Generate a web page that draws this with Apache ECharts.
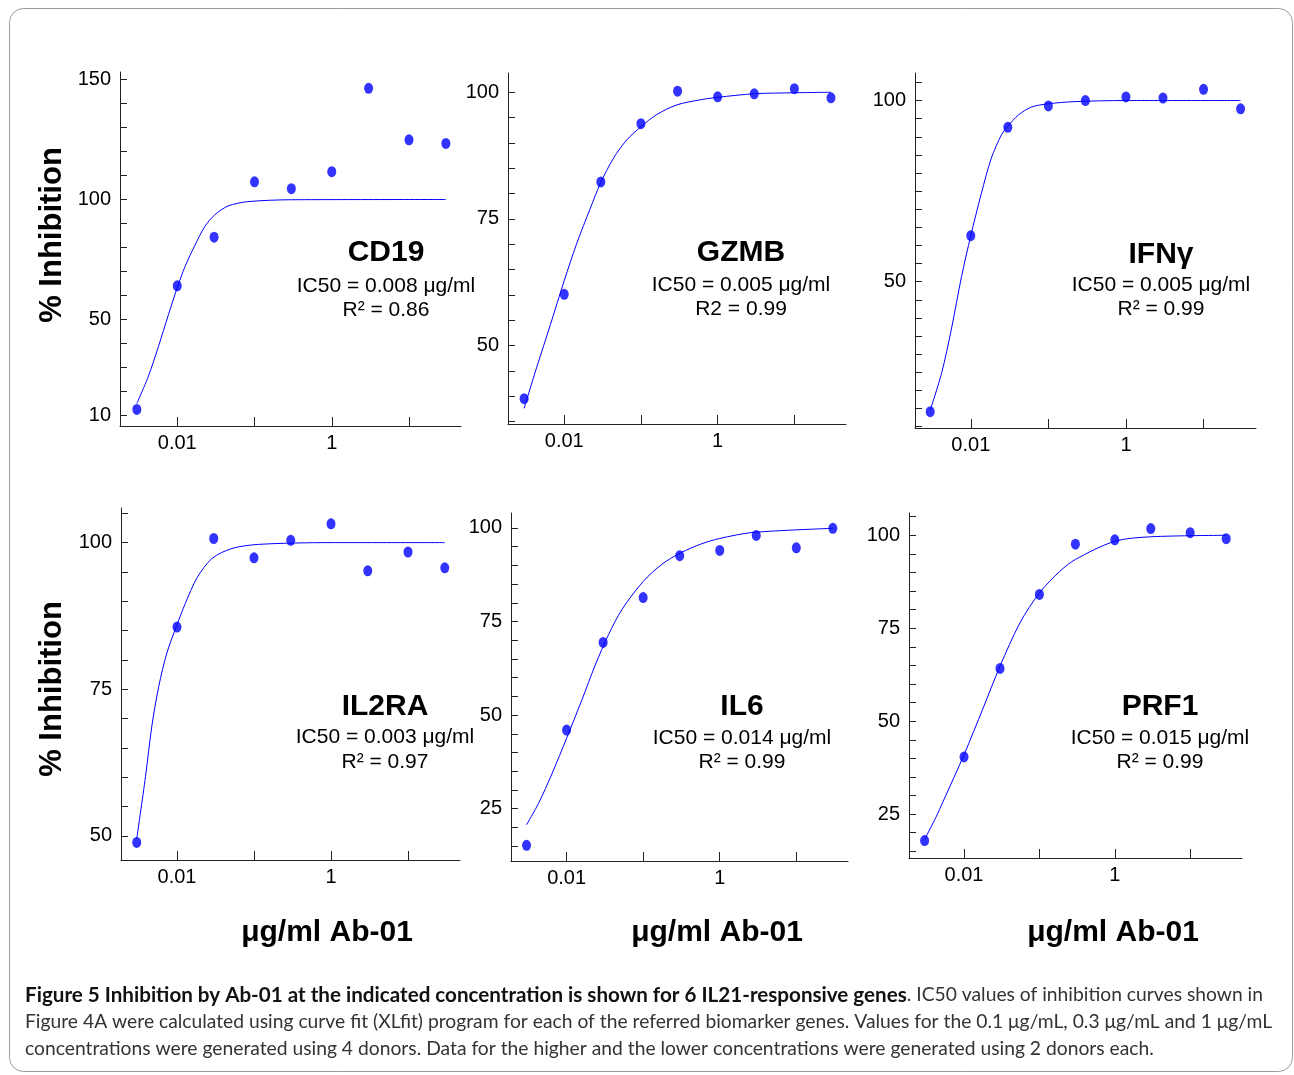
<!DOCTYPE html>
<html>
<head>
<meta charset="utf-8">
<script src="https://cdn.jsdelivr.net/npm/echarts/dist/echarts.min.js"></script>
<style>
html,body{margin:0;padding:0;background:#fff;}
#chart{width:1294px;height:1075px;}
</style>
</head>
<body>
<div id="chart"></div>
<script>
// ---------- data ----------
const concentrations = [0.003, 0.01, 0.03, 0.1, 0.3, 1, 3, 10, 30];

const cd19Values  = [12.4, 64.0, 84.3, 107.4, 104.5, 111.6, 146.4, 124.9, 123.4];
const gzmbValues  = [39.5, 60.1, 82.3, 93.8, 100.2, 99.1, 99.7, 100.7, 98.9];
const ifngValues  = [14.1, 62.7, 92.6, 98.5, 100.0, 101.0, 100.7, 103.1, 97.7];
const il2raValues = [48.9, 85.6, 100.7, 97.4, 100.4, 103.2, 95.2, 98.4, 95.7];
const il6Values   = [15.2, 46.0, 69.4, 81.4, 92.6, 94.0, 98.0, 94.7, 99.9];
const prf1Values  = [17.9, 40.4, 64.2, 84.1, 97.6, 98.8, 101.8, 100.7, 99.1];

// fitted curves, points
const cd19FitConc   = [0.003, 0.0042, 0.0057, 0.0077, 0.01, 0.0126, 0.017, 0.0227, 0.0306, 0.0455, 0.082, 0.3, 30];
const cd19FitValues = [14.9, 26.0, 38.6, 52.0, 63.2, 72.0, 81.0, 88.7, 93.6, 97.3, 99.1, 99.9, 100];
const gzmbFitConc   = [0.003, 0.0044, 0.0066, 0.01, 0.0146, 0.0219, 0.0296, 0.0439, 0.0655, 0.1, 0.161, 0.293, 0.59, 1, 3, 10, 30];
const gzmbFitValues = [37.6, 45.8, 54.1, 62.8, 70.2, 77.1, 82.0, 87.0, 90.6, 93.2, 95.6, 97.5, 98.5, 99.0, 99.7, 99.9, 100];
const ifngFitConc   = [0.003, 0.0042, 0.0056, 0.0076, 0.01, 0.0137, 0.0184, 0.0248, 0.0297, 0.041, 0.0605, 0.1, 0.22, 1, 30];
const ifngFitValues = [14.5, 24.7, 36.7, 51.4, 62.7, 74.4, 84.1, 90.5, 92.8, 96.0, 98.2, 99.1, 99.7, 100, 100];
const il2raFitConc   = [0.003, 0.0039, 0.0047, 0.0058, 0.0074, 0.01, 0.0128, 0.0182, 0.0285, 0.0518, 0.115, 1, 30];
const il2raFitValues = [49.5, 60.1, 68.6, 75.5, 81.2, 86.0, 89.6, 94.0, 97.3, 99.0, 99.7, 100, 100];
const il6FitConc   = [0.003, 0.0043, 0.0065, 0.01, 0.0158, 0.0237, 0.0353, 0.0528, 0.1, 0.176, 0.305, 0.586, 1, 2.72, 30];
const il6FitValues = [20.7, 26.4, 34.5, 43.8, 54.0, 63.4, 71.5, 78.2, 85.7, 90.3, 93.3, 95.8, 97.2, 98.8, 99.9];
const prf1FitConc   = [0.003, 0.0042, 0.0053, 0.01, 0.0179, 0.03, 0.055, 0.1, 0.186, 0.3, 1, 3, 30];
const prf1FitValues = [18.2, 24.0, 28.5, 41.0, 53.5, 64.8, 76.4, 84.5, 90.3, 93.5, 98.4, 99.6, 100];

// tick marks and tick labels
const xTickValues  = [0.01, 0.1, 1, 10];
const xLabelValues = [0.01, 1];
const cd19YTicks  = [10, 20, 30, 40, 50, 60, 70, 80, 90, 100, 110, 120, 130, 140, 150];
const cd19YLabels = [10, 50, 100, 150];
const gzmbYTicks  = [35, 40, 45, 50, 55, 60, 65, 70, 75, 80, 85, 90, 95, 100];
const gzmbYLabels = [50, 75, 100];
const ifngYTicks  = [10, 15, 20, 25, 30, 35, 40, 45, 50, 55, 60, 65, 70, 75, 80, 85, 90, 95, 100, 105];
const ifngYLabels = [50, 100];
const il2raYTicks  = [50, 55, 60, 65, 70, 75, 80, 85, 90, 95, 100, 105];
const il2raYLabels = [50, 75, 100];
const il6YTicks  = [15, 20, 25, 30, 35, 40, 45, 50, 55, 60, 65, 70, 75, 80, 85, 90, 95, 100];
const il6YLabels = [25, 50, 75, 100];
const prf1YTicks  = [15, 20, 25, 30, 35, 40, 45, 50, 55, 60, 65, 70, 75, 80, 85, 90, 95, 100, 105];
const prf1YLabels = [25, 50, 75, 100];

const geneNames = ['CD19', 'GZMB', 'IFNγ', 'IL2RA', 'IL6', 'PRF1'];
const ic50Texts = ['IC50 = 0.008 μg/ml', 'IC50 = 0.005 μg/ml', 'IC50 = 0.005 μg/ml', 'IC50 = 0.003 μg/ml', 'IC50 = 0.014 μg/ml', 'IC50 = 0.015 μg/ml'];
const r2Texts   = ['R² = 0.86', 'R2 = 0.99', 'R² = 0.99', 'R² = 0.97', 'R² = 0.99', 'R² = 0.99'];
const xAxisTitle = 'μg/ml Ab-01';
const yAxisTitle = '% Inhibition';
const captionBold = 'Figure 5 Inhibition by Ab-01 at the indicated concentration is shown for 6 IL21-responsive genes';
const captionLine1 = '. IC50 values of inhibition curves shown in';
const captionLine2 = 'Figure 4A were calculated using curve fit (XLfit) program for each of the referred biomarker genes. Values for the 0.1 μg/mL, 0.3 μg/mL and 1 μg/mL';
const captionLine3 = 'concentrations were generated using 4 donors. Data for the higher and the lower concentrations were generated using 2 donors each.';

// ---------- layout ----------
const panels = [
  {values: cd19Values,  fitC: cd19FitConc,  fitV: cd19FitValues,  yTicks: cd19YTicks,  yLabels: cd19YLabels,
   yMin: 5.5,  yMax: 153.2, xMin: -2.741, xMax: 1.673, grid: {left: 120, top: 72,  width: 341, height: 354}, tx: 386,  ty: [253, 286, 310]},
  {values: gzmbValues,  fitC: gzmbFitConc,  fitV: gzmbFitValues,  yTicks: gzmbYTicks,  yLabels: gzmbYLabels,
   yMin: 34.5, yMax: 103.8, xMin: -2.733, xMax: 1.673, grid: {left: 508, top: 73,  width: 338, height: 351}, tx: 741,  ty: [253, 285, 309]},
  {values: ifngValues,  fitC: ifngFitConc,  fitV: ifngFitValues,  yTicks: ifngYTicks,  yLabels: ifngYLabels,
   yMin: 9.6,  yMax: 107.6, xMin: -2.719, xMax: 1.676, grid: {left: 915, top: 73,  width: 341, height: 355}, tx: 1161, ty: [255, 285, 309]},
  {values: il2raValues, fitC: il2raFitConc, fitV: il2raFitValues, yTicks: il2raYTicks, yLabels: il2raYLabels,
   yMin: 45.9, yMax: 105.9, xMin: -2.727, xMax: 1.675, grid: {left: 121, top: 508, width: 339, height: 352}, tx: 385,  ty: [707, 737, 762]},
  {values: il6Values,   fitC: il6FitConc,   fitV: il6FitValues,   yTicks: il6YTicks,   yLabels: il6YLabels,
   yMin: 11,   yMax: 104,   xMin: -2.726, xMax: 1.675, grid: {left: 511, top: 513, width: 337, height: 348}, tx: 742,  ty: [707, 738, 762]},
  {values: prf1Values,  fitC: prf1FitConc,  fitV: prf1FitValues,  yTicks: prf1YTicks,  yLabels: prf1YLabels,
   yMin: 13.2, yMax: 106,   xMin: -2.730, xMax: 1.687, grid: {left: 909, top: 513, width: 333, height: 345}, tx: 1160, ty: [707, 738, 762]}
];

const FONT = '"Liberation Sans", Arial, Helvetica, sans-serif';
const CAPFAMILY = 'Lato, "Open Sans", sans-serif';
const AXIS_COLOR = '#222';
const BLUE = '#0000ff';

// caption font sizes chosen so caption runs span the same widths as in the figure
function measure(text, size, weight) {
  const ctx = document.createElement('canvas').getContext('2d');
  ctx.font = (weight || 'normal') + ' ' + size + 'px ' + CAPFAMILY;
  return ctx.measureText(text).width;
}
const capSize = Math.max(14, Math.min(22, 100 * 1248 / measure(captionLine2, 100)));
const capBoldSize = Math.max(14, Math.min(22, 100 * 882 / measure(captionBold, 100, 'bold')));

const grids = [], xAxes = [], yAxes = [], series = [], graphics = [];

function fmtConc(v) {
  const c = Math.round(Math.pow(10, v) * 1e6) / 1e6;
  return String(c);
}

panels.forEach((p, i) => {
  grids.push(Object.assign({containLabel: false}, p.grid));
  xAxes.push({
    type: 'value', gridIndex: i, min: p.xMin, max: p.xMax,
    axisLine: {show: true, onZero: false, lineStyle: {color: AXIS_COLOR, width: 1}},
    axisTick: {show: true, inside: true, length: 9, lineStyle: {color: AXIS_COLOR}, customValues: xTickValues.map(Math.log10)},
    axisLabel: {show: true, customValues: xLabelValues.map(Math.log10), formatter: fmtConc, color: '#000', fontSize: 20, fontFamily: FONT, margin: 7},
    splitLine: {show: false}
  });
  yAxes.push({
    type: 'value', gridIndex: i, min: p.yMin, max: p.yMax,
    axisLine: {show: true, onZero: false, lineStyle: {color: AXIS_COLOR, width: 1}},
    axisTick: {show: true, inside: true, length: 7, lineStyle: {color: AXIS_COLOR}, customValues: p.yTicks},
    axisLabel: {show: true, customValues: p.yLabels, color: '#000', fontSize: 20, fontFamily: FONT, margin: 9},
    splitLine: {show: false}
  });
  series.push({
    type: 'line', xAxisIndex: i, yAxisIndex: i, silent: true,
    data: p.fitC.map((c, j) => [Math.log10(c), p.fitV[j]]),
    showSymbol: false, smooth: 0.3,
    lineStyle: {color: BLUE, width: 1}, z: 2
  });
  series.push({
    type: 'scatter', xAxisIndex: i, yAxisIndex: i, silent: true,
    data: concentrations.map((c, j) => [Math.log10(c), p.values[j]]),
    symbol: 'circle', symbolSize: [9, 11],
    itemStyle: {color: BLUE}, z: 3
  });
  const t = (text, y, size, weight) => ({
    type: 'text', x: p.tx, y: y, silent: true,
    style: {text: text, fontSize: size, fontWeight: weight, fontFamily: FONT, fill: '#000',
            textAlign: 'center', textVerticalAlign: 'middle', align: 'center', verticalAlign: 'middle'}
  });
  graphics.push(t(geneNames[i], p.ty[0], 30, 'bold'));
  graphics.push(t(ic50Texts[i], p.ty[1], 21, 'normal'));
  graphics.push(t(r2Texts[i], p.ty[2], 21, 'normal'));
});

// axis titles
[327, 717, 1113].forEach(x => {
  graphics.push({type: 'text', x: x, y: 933, silent: true,
    style: {text: xAxisTitle, fontSize: 30, fontWeight: 'bold', fontFamily: FONT, fill: '#000',
            textAlign: 'center', textVerticalAlign: 'middle', align: 'center', verticalAlign: 'middle'}});
});
[235, 689].forEach(y => {
  graphics.push({type: 'text', x: 52, y: y, rotation: Math.PI / 2, silent: true,
    style: {text: yAxisTitle, fontSize: 31, fontWeight: 'bold', fontFamily: FONT, fill: '#000',
            textAlign: 'center', textVerticalAlign: 'middle', align: 'center', verticalAlign: 'middle'}});
});

// frame
graphics.push({type: 'rect', silent: true, z: -1,
  shape: {x: 9.5, y: 8.5, width: 1283, height: 1063, r: 14},
  style: {fill: 'none', stroke: '#9a9a9a', lineWidth: 1}});

// caption
graphics.push({type: 'text', x: 25, y: 995, silent: true,
  style: {text: '{b|' + captionBold + '}{r|' + captionLine1 + '}',
          textVerticalAlign: 'middle', verticalAlign: 'middle',
          rich: {b: {fontFamily: CAPFAMILY, fontSize: capBoldSize, fontWeight: 'bold', fill: '#111', color: '#111'},
                 r: {fontFamily: CAPFAMILY, fontSize: capSize, fontWeight: 'normal', fill: '#333', color: '#333'}}}});
[[captionLine2, 1022], [captionLine3, 1049]].forEach(([txt, y]) => {
  graphics.push({type: 'text', x: 25, y: y, silent: true,
    style: {text: txt, fontFamily: CAPFAMILY, fontSize: capSize, fill: '#333',
            textVerticalAlign: 'middle', verticalAlign: 'middle'}});
});

const chart = echarts.init(document.getElementById('chart'), null, {renderer: 'canvas'});
chart.setOption({
  backgroundColor: '#fff',
  animation: false,
  grid: grids, xAxis: xAxes, yAxis: yAxes, series: series,
  graphic: {elements: graphics}
});
</script>
</body>
</html>
